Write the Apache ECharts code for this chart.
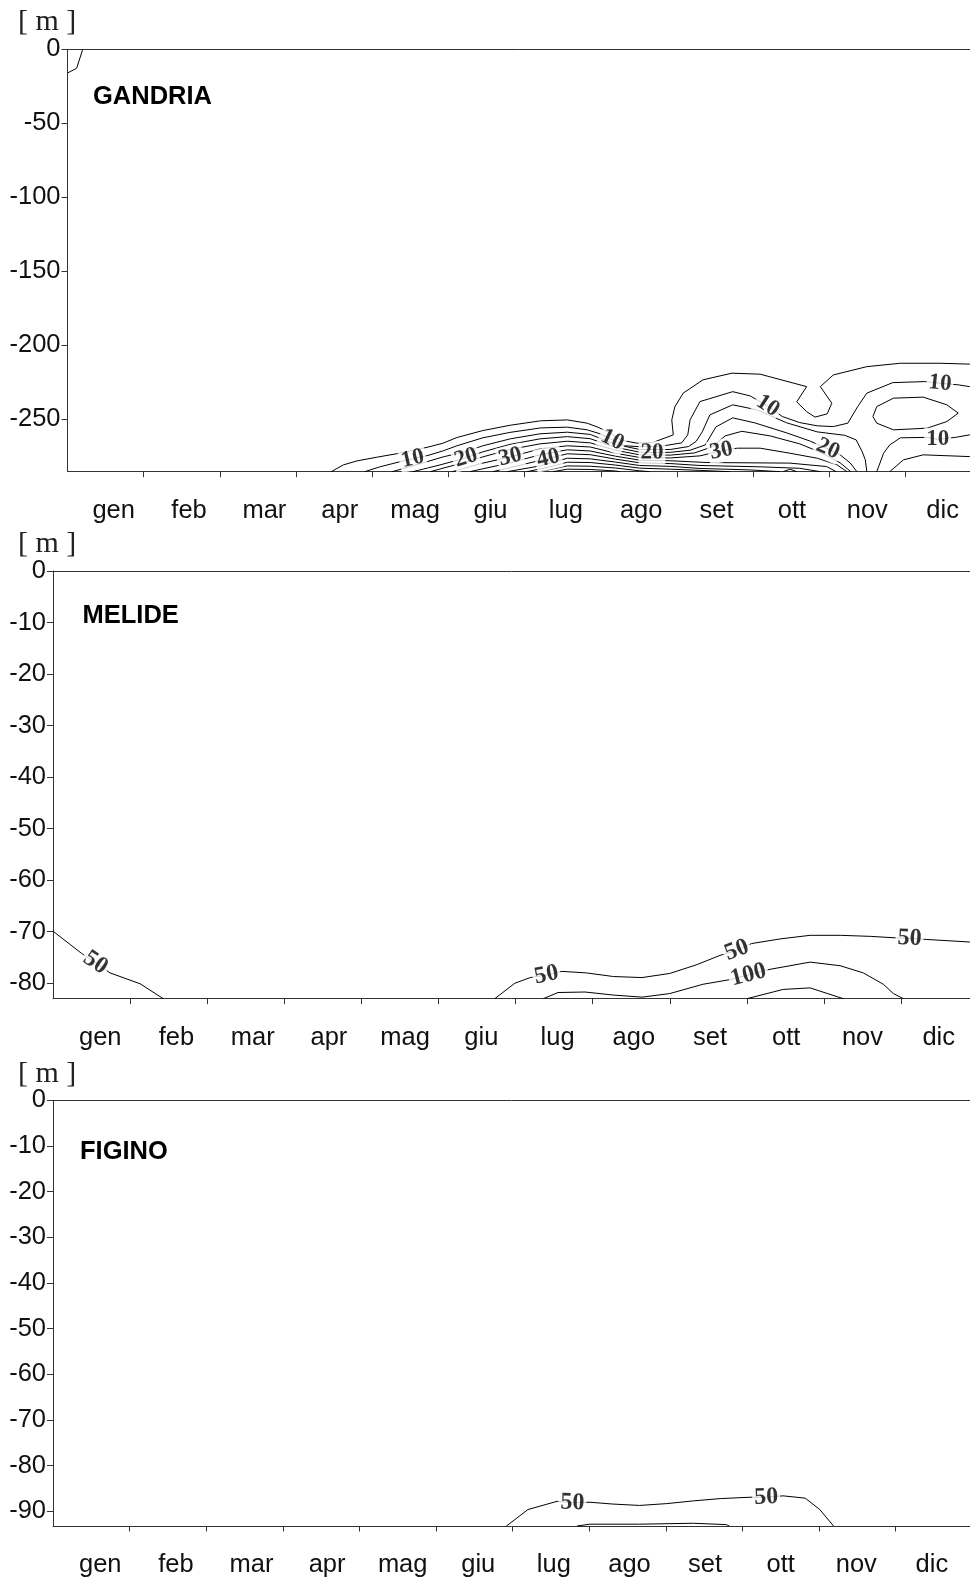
<!DOCTYPE html>
<html>
<head>
<meta charset="utf-8">
<script src="https://cdn.jsdelivr.net/npm/echarts@6/dist/echarts.min.js"></script>
<style>
html, body { margin: 0; padding: 0; background: #fff; }
#chart { width: 970px; height: 1581px; }
</style>
</head>
<body>
<div id="chart"></div>
<script>
// ---- axis content ----
const months = ['gen', 'feb', 'mar', 'apr', 'mag', 'giu', 'lug', 'ago', 'set', 'ott', 'nov', 'dic'];
const monthTicks = [1, 2, 3, 4, 5, 6, 7, 8, 9, 10, 11];
const gandriaTicks = [0, -50, -100, -150, -200, -250];
const melideTicks = [0, -10, -20, -30, -40, -50, -60, -70, -80];
const figinoTicks = [0, -10, -20, -30, -40, -50, -60, -70, -80, -90];
const gandriaBottom = -285.5;
const melideBottom = -83;
const figinoBottom = -93.2;

// ---- GANDRIA isolines: [month, depth m] ----
const gandriaSurface = [[0, -16.0], [0.12, -12.8], [0.2, 0]];
const gandria05 = [[3.46, -285.5], [3.62, -280.9], [3.80, -278.2], [4.06, -275.7], [4.36, -273.0], [4.73, -268.9], [4.93, -266.2], [5.11, -262.4], [5.45, -257.7], [5.81, -254.1], [6.21, -251.1], [6.56, -250.5], [6.82, -252.7], [6.96, -255.4], [7.12, -259.3], [7.25, -264.0], [7.47, -266.2], [7.68, -265.8], [7.95, -260.6], [7.93, -250.5], [7.97, -241.7], [8.08, -232.4], [8.34, -223.4], [8.72, -218.9], [9.09, -219.6], [9.70, -228.0], [9.57, -238.3], [9.70, -244.9], [9.81, -248.6], [9.97, -246.4], [10.03, -239.2], [9.88, -228.0], [10.05, -220.1], [10.49, -214.5], [10.93, -212.2], [11.45, -212.2], [11.84, -212.8], [12, -213.1]];
const gandria10 = [[3.90, -285.5], [4.10, -282.2], [4.36, -278.8], [4.53, -276.8], [4.73, -274.5], [4.93, -271.4], [5.11, -268.0], [5.45, -262.6], [5.81, -258.9], [6.21, -255.9], [6.56, -255.4], [6.82, -257.2], [6.99, -259.9], [7.15, -264.0], [7.32, -268.0], [7.51, -268.6], [7.78, -268.4], [8.06, -266.0], [8.14, -260.6], [8.17, -250.5], [8.30, -238.1], [8.73, -231.4], [8.96, -234.3], [9.19, -241.0], [9.38, -248.2], [9.61, -252.3], [9.84, -254.5], [10.05, -255.0], [10.24, -252.7], [10.37, -241.5], [10.49, -232.4], [10.83, -225.3], [11.25, -224.6], [11.45, -225.7], [11.69, -226.8], [11.84, -228.0], [12, -228.9]];
const gandria15 = [[4.26, -285.5], [4.53, -281.6], [4.93, -275.5], [5.23, -271.8], [5.45, -268.0], [5.81, -263.3], [6.20, -259.9], [6.56, -258.8], [6.86, -260.3], [7.19, -267.0], [7.51, -270.5], [7.91, -270.5], [8.15, -268.5], [8.25, -265.0], [8.33, -258.6], [8.43, -247.1], [8.73, -240.3], [9.05, -243.7], [9.44, -252.5], [9.84, -258.6], [10.20, -260.9], [10.35, -264.0], [10.43, -272.1], [10.47, -277.5], [10.49, -285.5]];
const gandria20 = [[4.53, -285.5], [4.89, -280.9], [5.23, -276.1], [5.45, -272.1], [5.81, -267.0], [6.20, -263.3], [6.56, -261.8], [6.86, -263.2], [7.19, -269.0], [7.51, -272.3], [7.67, -272.6], [7.91, -272.4], [8.17, -271.0], [8.37, -267.4], [8.51, -255.2], [8.73, -249.1], [9.02, -252.5], [9.44, -259.3], [9.74, -264.7], [9.98, -270.1], [10.14, -274.1], [10.27, -279.5], [10.36, -285.5]];
const gandria25 = [[4.76, -285.5], [5.23, -278.9], [5.45, -275.5], [5.81, -270.4], [6.20, -266.7], [6.56, -264.9], [6.86, -266.0], [7.19, -271.0], [7.51, -274.1], [7.91, -274.3], [8.23, -272.8], [8.46, -268.7], [8.63, -261.3], [8.85, -258.2], [9.22, -261.3], [9.61, -266.7], [9.90, -272.8], [10.14, -279.5], [10.28, -285.5]];
const gandria30 = [[5.05, -285.5], [5.41, -280.2], [5.81, -275.5], [6.20, -270.1], [6.56, -268.0], [6.86, -268.8], [7.19, -273.0], [7.51, -275.9], [7.91, -276.2], [8.30, -274.8], [8.58, -271.4], [8.79, -269.6], [9.09, -269.6], [9.48, -273.0], [9.84, -276.4], [10.10, -280.9], [10.23, -285.5]];
const gandria35 = [[5.28, -285.5], [5.81, -279.5], [6.20, -274.1], [6.56, -270.7], [6.86, -271.5], [7.19, -275.0], [7.51, -277.7], [7.91, -278.1], [8.39, -279.3], [9.48, -279.7], [9.96, -282.0], [10.09, -285.5]];
const gandria40 = [[5.58, -285.5], [6.07, -279.5], [6.31, -276.5], [6.56, -273.4], [6.86, -274.0], [7.19, -277.0], [7.51, -279.5], [7.91, -280.0], [8.30, -281.3], [9.09, -282.2], [9.61, -283.2], [9.88, -285.5]];
const gandria45 = [[5.77, -285.5], [6.20, -281.6], [6.56, -276.4], [6.86, -276.8], [7.19, -279.0], [7.51, -281.3], [7.91, -281.9], [8.30, -283.3], [8.96, -284.3], [9.35, -285.5]];
const gandria45b = [[9.39, -285.5], [9.48, -283.8], [9.57, -285.5]];
const gandria50 = [[6.03, -285.5], [6.33, -282.2], [6.56, -279.1], [6.86, -279.3], [7.19, -281.0], [7.51, -283.1], [7.91, -283.8], [8.30, -284.6], [8.69, -285.5]];
const gandria55 = [[6.20, -285.5], [6.56, -281.6], [6.86, -281.8], [7.19, -283.0], [7.51, -284.9], [7.64, -285.5]];
const gandria60 = [[6.37, -285.5], [6.56, -283.8], [6.86, -284.0], [7.19, -285.0], [7.25, -285.5]];
const gandria10b = [[10.62, -285.5], [10.71, -273.0], [10.79, -267.4], [10.93, -262.6], [11.28, -262.3], [11.42, -263.6], [11.65, -262.3], [11.84, -260.6], [12, -260.3]];
const gandria05b = [[10.79, -285.5], [10.97, -277.5], [11.23, -274.1], [11.84, -275.3], [12, -275.5]];
const gandria15ring = [[10.57, -248.2], [10.62, -241.5], [10.84, -235.8], [11.23, -235.1], [11.54, -240.3], [11.69, -245.9], [11.54, -251.6], [11.28, -256.1], [10.84, -257.2], [10.62, -252.7], [10.57, -248.2]];

// ---- MELIDE isolines ----
const melide50a = [[0, -69.9], [0.37, -74.2], [0.55, -76.0], [0.74, -78.0], [1.13, -80.1], [1.43, -83]];
const melide50b = [[5.73, -83], [5.99, -80.0], [6.19, -78.9], [6.40, -78.4], [6.60, -77.7], [6.92, -78.0], [7.27, -78.7], [7.64, -78.9], [8.00, -78.1], [8.35, -76.4], [8.65, -74.6], [8.87, -73.6], [9.06, -72.3], [9.43, -71.4], [9.82, -70.7], [10.21, -70.7], [10.60, -70.9], [10.94, -71.2], [11.11, -71.3], [11.33, -71.5], [11.89, -72.0], [12, -72.1]];
const melide100 = [[6.36, -83], [6.55, -81.8], [6.90, -81.7], [7.27, -82.3], [7.64, -82.7], [8.00, -82.0], [8.43, -80.2], [8.78, -79.3], [9.02, -78.4], [9.30, -77.3], [9.82, -75.9], [10.21, -76.6], [10.51, -78.0], [10.77, -80.2], [10.90, -82.0], [11.03, -83]];
const melide150 = [[9.00, -83], [9.47, -81.2], [9.82, -80.9], [10.25, -83]];

// ---- FIGINO isolines ----
const figino50 = [[5.92, -93.2], [6.20, -89.6], [6.58, -87.8], [6.78, -88.1], [7.01, -88.0], [7.31, -88.4], [7.66, -88.7], [8.01, -88.3], [8.36, -87.7], [8.71, -87.2], [9.10, -86.9], [9.31, -86.9], [9.53, -86.6], [9.82, -87.1], [10.01, -89.6], [10.19, -93.2]];
const figino100 = [[6.84, -93.2], [7.01, -92.8], [7.66, -92.8], [8.36, -92.6], [8.79, -92.9], [8.83, -93.2]];

// isoline value, vertices, indices of the vertices carrying the value label
const gandriaLines = [
  [5, gandriaSurface, []], [5, gandria05, []], [10, gandria10, [3, 13, 23, 33]],
  [15, gandria15, []], [20, gandria20, [2, 10, 19]], [25, gandria25, []],
  [30, gandria30, [2, 10]], [35, gandria35, []], [40, gandria40, [2]],
  [45, gandria45, []], [45, gandria45b, []], [50, gandria50, []], [55, gandria55, []],
  [60, gandria60, []], [10, gandria10b, [5]], [5, gandria05b, []], [15, gandria15ring, []]
];
const melideLines = [
  [50, melide50a, [2]], [50, melide50b, [3, 11, 18]], [100, melide100, [8]], [150, melide150, []]
];
const figinoLines = [
  [50, figino50, [3, 11]], [100, figino100, []]
];

// ---- page layout of the three panels (the month scale runs past the right edge) ----
const pageWidth = 970;
const panels = [
  { name: 'GANDRIA', ticks: gandriaTicks, bottom: gandriaBottom, lines: gandriaLines,
    left: 67.5, top: 49.3, height: 422.4, monthPx: 76.2, labelStart: 0.606, labelStep: 0.989,
    titleX: 93, titleY: 83.5, unitY: 7, labelSize: 23 },
  { name: 'MELIDE', ticks: melideTicks, bottom: melideBottom, lines: melideLines,
    left: 53, top: 571, height: 427.7, monthPx: 77.1, labelStart: 0.613, labelStep: 0.9886,
    titleX: 82.5, titleY: 602.5, unitY: 529.5, labelSize: 24 },
  { name: 'FIGINO', ticks: figinoTicks, bottom: figinoBottom, lines: figinoLines,
    left: 53, top: 1100.3, height: 425.7, monthPx: 76.6, labelStart: 0.617, labelStep: 0.987,
    titleX: 80, titleY: 1138.5, unitY: 1059.5, labelSize: 24 }
];

const axisColor = '#333';
const sans = 'Liberation Sans, Arial, sans-serif';
const serif = 'Liberation Serif, Times New Roman, serif';

const grids = [], xAxes = [], topAxes = [], yAxes = [], titles = [], series = [];

panels.forEach(function (p, g) {
  const edge = (pageWidth - p.left) / p.monthPx;   // month value at the page edge
  grids.push({ left: p.left, top: p.top, right: 0, height: p.height });
  const labelValues = months.map(function (_, i) { return p.labelStart + i * p.labelStep; });
  xAxes.push({
    type: 'value', gridIndex: g, min: 0, max: edge,
    splitLine: { show: false },
    axisLine: { onZero: false, lineStyle: { color: axisColor, width: 1 } },
    axisTick: { customValues: monthTicks, length: 5.5, lineStyle: { color: axisColor, width: 1 } },
    axisLabel: {
      customValues: labelValues, margin: 26,
      fontFamily: sans, fontSize: 25.5, color: '#111',
      formatter: function (v) { return months[Math.round((v - p.labelStart) / p.labelStep)]; }
    }
  });
  // surface line along the top of each panel
  topAxes.push({
    type: 'value', gridIndex: g, position: 'top', min: 0, max: edge,
    splitLine: { show: false }, axisTick: { show: false }, axisLabel: { show: false },
    axisLine: { onZero: false, lineStyle: { color: axisColor, width: 1 } }
  });
  yAxes.push({
    type: 'value', gridIndex: g, min: p.bottom, max: 0,
    splitLine: { show: false },
    axisLine: { onZero: false, lineStyle: { color: axisColor, width: 1 } },
    axisTick: { customValues: p.ticks, length: 6, lineStyle: { color: axisColor, width: 1 } },
    axisLabel: { customValues: p.ticks, margin: 7, fontFamily: sans, fontSize: 25.5, color: '#111' }
  });
  titles.push({
    text: p.name, left: p.titleX, top: p.titleY, padding: 0,
    textStyle: { fontFamily: sans, fontWeight: 'bold', fontSize: 25.5, color: '#000' }
  });
  titles.push({
    text: '[ m ]', left: 18, top: p.unitY, padding: 0,
    textStyle: { fontFamily: serif, fontWeight: 'normal', fontSize: 30, color: '#222' }
  });
  p.lines.forEach(function (ln) {
    series.push({
      type: 'line', xAxisIndex: g, yAxisIndex: g, data: ln[1],
      symbol: 'none', showSymbol: false, smooth: false, silent: true,
      lineStyle: { color: '#000', width: 1 }, z: 2
    });
  });
});

const chart = echarts.init(document.getElementById('chart'), null, { renderer: 'canvas' });
chart.setOption({
  animation: false,
  backgroundColor: '#fff',
  title: titles,
  grid: grids,
  xAxis: xAxes.concat(topAxes),
  yAxis: yAxes,
  series: series
});

// value labels sit on their isoline, turned along the local direction of the line
const labelSeries = [];
panels.forEach(function (p, g) {
  const items = [];
  const finder = { xAxisIndex: g, yAxisIndex: g };
  p.lines.forEach(function (ln) {
    const pts = ln[1];
    ln[2].forEach(function (i) {
      const a = chart.convertToPixel(finder, pts[Math.max(0, i - 1)]);
      const b = chart.convertToPixel(finder, pts[Math.min(pts.length - 1, i + 1)]);
      let ang = Math.atan2(-(b[1] - a[1]), b[0] - a[0]) * 180 / Math.PI;
      if (ang > 90) ang -= 180;
      if (ang < -90) ang += 180;
      items.push({ value: [pts[i][0], pts[i][1], ln[0]], label: { rotate: ang } });
    });
  });
  labelSeries.push({
    type: 'scatter', xAxisIndex: g, yAxisIndex: g, data: items,
    symbol: 'circle', symbolSize: 1, itemStyle: { color: 'rgba(0,0,0,0)' },
    silent: true, z: 5,
    label: {
      show: true, position: 'inside',
      formatter: function (d) { return String(d.value[2]); },
      fontFamily: serif, fontWeight: 'bold', fontSize: p.labelSize, color: '#000',
      backgroundColor: '#fff', padding: [0, 2]
    }
  });
});
chart.setOption({ series: series.concat(labelSeries) });
</script>
</body>
</html>
